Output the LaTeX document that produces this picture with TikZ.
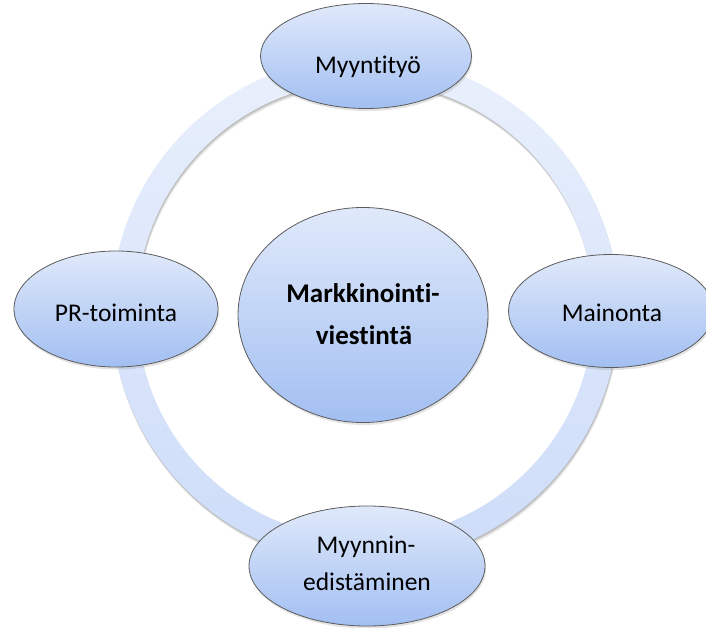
\documentclass[tikz,border=0pt]{standalone}
\usepackage{fontspec}
\setmainfont{Carlito}[RawFeature={-liga;-clig;-calt;-dlig}]
\usetikzlibrary{shapes.geometric,shadows}
\definecolor{ringtop}{RGB}{233,240,252}
\definecolor{ringbot}{RGB}{205,220,249}
\definecolor{balltop}{RGB}{224,233,250}
\definecolor{ballbot}{RGB}{162,191,242}
\definecolor{edge}{RGB}{92,92,92}
\tikzset{
  bubble/.style={ellipse, draw=edge, line width=0.8pt,
    top color=balltop, bottom color=ballbot, inner sep=0pt,
    drop shadow={shadow xshift=1pt, shadow yshift=-2.5pt, opacity=0.22}},
  lbl/.style={font=\fontsize{25.5}{30}\selectfont, anchor=base, inner sep=0pt},
  hubtext/.style={font=\bfseries\fontsize{27}{30}\selectfont, anchor=base, inner sep=0pt}
}
\begin{document}
\begin{tikzpicture}[x=1pt,y=-1pt]
\useasboundingbox (0,0) rectangle (706,628);
% soft shadow under the ring
\foreach \d/\o in {1.0/0.10,2.0/0.09,3.0/0.07,4.0/0.05}{
  \fill[black, opacity=\o, even odd rule]
    ({365+0.3*\d},{310+\d}) circle (253.5) ({365+0.3*\d},{310+\d}) circle (228.5);
}
% the ring linking the four tools
\shade[top color=ringtop, bottom color=ringbot, even odd rule]
  (365,310) circle (253.5) (365,310) circle (228.5);
% tools around the ring
\node[bubble, minimum width=211pt, minimum height=105pt] (sales) at (366,56) {};
\node[bubble, minimum width=204pt, minimum height=116pt] (pr) at (116,309) {};
\node[bubble, minimum width=205pt, minimum height=113pt] (ads) at (611,311) {};
\node[bubble, minimum width=236pt, minimum height=120pt] (promo) at (367,566) {};
% central hub
\node[bubble, minimum width=250pt, minimum height=215pt] (hub) at (363,315) {};
% labels
\node[lbl] (sales-t) at (368,74) {Myyntityö};
\node[lbl] (pr-t) at (116,321) {PR-toiminta};
\node[lbl] (ads-t) at (612,321) {Mainonta};
\node[lbl] (promo-a) at (366,553) {Myynnin-};
\node[lbl] (promo-b) at (367,590) {edistäminen};
\node[hubtext] (hub-a) at (363,302) {Markkinointi-};
\node[hubtext] (hub-b) at (364,344) {viestintä};
\end{tikzpicture}
\end{document}
